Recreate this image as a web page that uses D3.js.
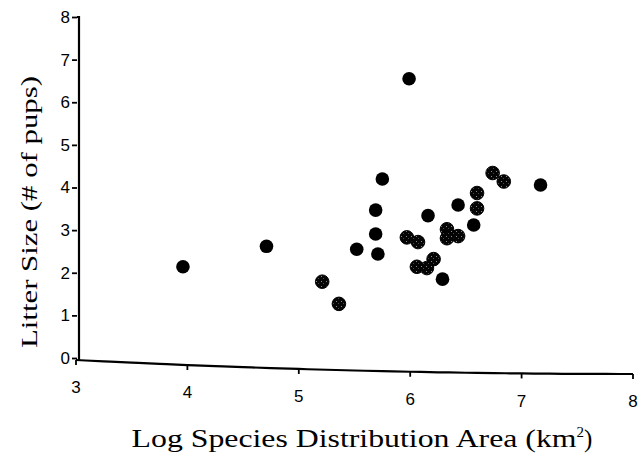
<!DOCTYPE html>
<html>
<head>
<meta charset="utf-8">
<script src="https://cdn.jsdelivr.net/npm/d3@7"></script>
<style>
  html, body { margin: 0; padding: 0; background: #fff; }
  svg { display: block; }
  .tick text { font-family: 'Liberation Sans', Arial, sans-serif; font-size: 17px; }
</style>
</head>
<body>
<svg id="chart" width="638" height="459"></svg>
<script>
// ---- data ----
const solidX = [5.75, 7.17, 6.43, 5.69, 6.16, 5.69, 6.57, 5.52, 5.71, 6.29, 4.71, 3.96, 5.99];
const solidY = [4.20, 4.06, 3.59, 3.47, 3.34, 2.91, 3.12, 2.55, 2.44, 1.85, 2.62, 2.14, 6.55];
const stippleX = [6.74, 6.84, 6.60, 6.60, 6.33, 6.43, 6.33, 5.97, 6.07, 6.21, 6.06, 6.15, 5.21, 5.36];
const stippleY = [4.34, 4.14, 3.87, 3.51, 3.02, 2.86, 2.81, 2.83, 2.72, 2.32, 2.14, 2.11, 1.79, 1.27];
const xTicks = [3, 4, 5, 6, 7, 8];
const yTicks = [0, 1, 2, 3, 4, 5, 6, 7, 8];
const xTitle = "Log Species Distribution Area (km";
const yTitle = "Litter Size (# of pups)";

// ---- layout ----
const svg = d3.select("#chart");
const x = d3.scaleLinear().domain([3, 8]).range([76, 633]);
const y = d3.scaleLinear().domain([0, 8]).range([358, 17]);
const axisX0 = 77;
// scanned baseline sags slightly to the right
const sag = v => 360 + 5.6 * (v - 3) - 0.56 * (v - 3) * (v - 3);
const sansFont = "'Liberation Sans', Arial, sans-serif";
const serifFont = "'Liberation Serif', 'Times New Roman', serif";

// stipple pattern
const defs = svg.append("defs");
const pat = defs.append("pattern").attr("id", "stip").attr("patternUnits", "userSpaceOnUse")
  .attr("width", 5).attr("height", 5);
pat.append("rect").attr("width", 5).attr("height", 5).attr("fill", "#050505");
pat.append("rect").attr("x", 1).attr("y", 1).attr("width", 1).attr("height", 1).attr("fill", "#8a8a8a");
pat.append("rect").attr("x", 3).attr("y", 3).attr("width", 1).attr("height", 1).attr("fill", "#4a4a4a");

// y axis
const yAxis = d3.axisLeft(y).tickValues(yTicks).tickSize(5).tickPadding(2).tickFormat(d3.format("d"));
const gy = svg.append("g").attr("transform", `translate(${axisX0},0)`).call(yAxis)
  .attr("font-size", 17).attr("font-family", sansFont);
gy.select(".domain").attr("d", `M0,${y(8)}H2V${sag(3)}`).attr("stroke", "#000").attr("stroke-width", 2.2).attr("fill", "none");
gy.selectAll(".tick line").attr("stroke", "#000").attr("stroke-width", 1.8);
gy.selectAll(".tick text").attr("fill", "#000");

// x axis (ticks follow the sagging baseline)
const xAxis = d3.axisBottom(x).tickValues(xTicks).tickSize(5).tickPadding(16).tickFormat(d3.format("d"));
const gx = svg.append("g").call(xAxis).attr("font-size", 17).attr("font-family", sansFont);
gx.select(".domain").remove();
gx.selectAll(".tick").attr("transform", d => `translate(${x(d)},${sag(d)})`);
gx.selectAll(".tick line").attr("stroke", "#000").attr("stroke-width", 1.8);
gx.selectAll(".tick text").attr("fill", "#000");
const line = d3.line().x(d => x(d)).y(d => sag(d)).curve(d3.curveMonotoneX);
svg.append("path").datum(d3.range(3, 8.001, 0.25)).attr("d", line)
  .attr("fill", "none").attr("stroke", "#000").attr("stroke-width", 2.2);

// points
const solid = solidX.map((v, i) => ({ x: v, y: solidY[i] }));
const stip = stippleX.map((v, i) => ({ x: v, y: stippleY[i] }));
svg.append("g").selectAll("circle").data(solid).join("circle")
  .attr("cx", d => x(d.x)).attr("cy", d => y(d.y)).attr("r", 6.8).attr("fill", "#000");
svg.append("g").selectAll("circle").data(stip).join("circle")
  .attr("cx", d => x(d.x)).attr("cy", d => y(d.y)).attr("r", 6.8)
  .attr("fill", "url(#stip)").attr("stroke", "#000").attr("stroke-width", 1);

// titles
const xt = svg.append("text").attr("x", 362).attr("y", 447).attr("text-anchor", "middle")
  .style("font-family", serifFont).style("font-size", "25px").attr("fill", "#000");
xt.append("tspan").attr("textLength", 445).attr("lengthAdjust", "spacingAndGlyphs").text(xTitle);
xt.append("tspan").style("font-size", "15px").attr("dy", -10).text("2");
xt.append("tspan").attr("dy", 10).text(")");

svg.append("text").attr("transform", "translate(37,212) rotate(-90)").attr("text-anchor", "middle")
  .style("font-family", serifFont).style("font-size", "23px").attr("fill", "#000")
  .attr("textLength", 272).attr("lengthAdjust", "spacingAndGlyphs")
  .text(yTitle);
</script>
</body>
</html>
